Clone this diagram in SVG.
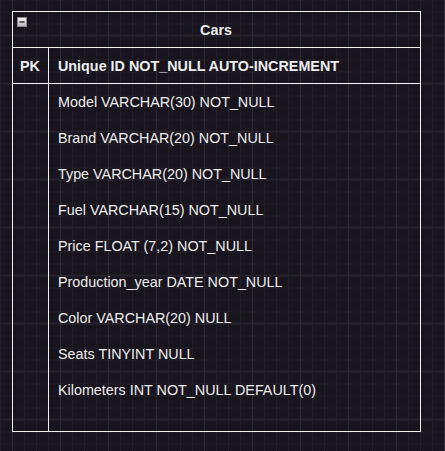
<svg xmlns="http://www.w3.org/2000/svg" width="445" height="451" viewBox="0 0 445 451">
<defs>
<pattern id="minor" width="12" height="12" patternUnits="userSpaceOnUse" x="0" y="-0.5">
<path d="M0 0.5H12M0.5 0V12" fill="none" stroke="#221e29" stroke-width="1"/>
</pattern>
<pattern id="major" width="48" height="48" patternUnits="userSpaceOnUse" x="0" y="-0.5">
<path d="M0 36H48M12.5 0V48" fill="none" stroke="#2e2a35" stroke-width="1"/>
</pattern>
<linearGradient id="btn" x1="0" y1="0" x2="0" y2="1">
<stop offset="0" stop-color="#f4f4f4"/>
<stop offset="1" stop-color="#b8b8b8"/>
</linearGradient>
<style>
.t{font-family:"Liberation Sans",Arial,sans-serif;font-size:14.35px;fill:#eeeeee}
.b{font-weight:bold}
.ln{stroke:#f0f0f0;stroke-width:1;fill:none}
</style>
</defs>
<rect width="445" height="451" fill="#18141d"/>
<rect width="445" height="451" fill="url(#minor)"/>
<rect width="445" height="451" fill="url(#major)"/>
<g id="table-cars">
<rect x="12.5" y="11.5" width="408" height="36" fill="#18141d" class="ln"/>
<rect x="12.5" y="11.5" width="408" height="420" class="ln"/>
<line x1="12.5" y1="83.5" x2="420.5" y2="83.5" class="ln"/>
<line x1="48.5" y1="47.5" x2="48.5" y2="431.5" class="ln"/>
<rect x="17.5" y="17.5" width="9" height="9" fill="url(#btn)" stroke="#888888" stroke-width="1"/>
<line x1="19.5" y1="22" x2="24.5" y2="22" stroke="#333333" stroke-width="1.5"/>
<text class="t b" x="216" y="35" text-anchor="middle">Cars</text>
<text class="t b" x="30" y="71" text-anchor="middle">PK</text>
<text class="t b" x="58" y="71">Unique ID NOT_NULL AUTO-INCREMENT</text>
<text class="t" x="58" y="107">Model VARCHAR(30) NOT_NULL</text>
<text class="t" x="58" y="143">Brand VARCHAR(20) NOT_NULL</text>
<text class="t" x="58" y="179">Type VARCHAR(20) NOT_NULL</text>
<text class="t" x="58" y="215">Fuel VARCHAR(15) NOT_NULL</text>
<text class="t" x="58" y="251">Price FLOAT (7,2) NOT_NULL</text>
<text class="t" x="58" y="287">Production_year DATE NOT_NULL</text>
<text class="t" x="58" y="323">Color VARCHAR(20) NULL</text>
<text class="t" x="58" y="359">Seats TINYINT NULL</text>
<text class="t" x="58" y="395">Kilometers INT NOT_NULL DEFAULT(0)</text>
</g>
<g id="connectors"/>
</svg>
